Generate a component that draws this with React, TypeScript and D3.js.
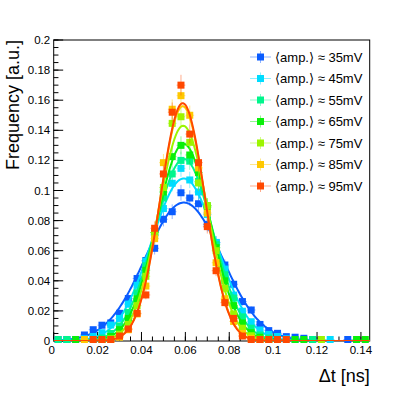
import React from 'react';
import * as d3 from 'd3';

// binning of the histograms (36 bins of 0.004 ns)
const binLow = 0
const binHigh = 0.144
const binCount = 36

const amplitudes = [35, 45, 55, 65, 75, 85, 95]
const colors = ['#0a5cff', '#00dcff', '#00f58c', '#0aef0a', '#9cf500', '#ffc800', '#ff4800']

// normalised frequency per bin, null = empty bin (not drawn)
const amp35 = [0.001, 0.001, 0.001, 0.004, 0.0075, 0.0105, 0.012, 0.0184, 0.0282, 0.0415, 0.0535, 0.0616,
    0.0809, 0.0859, 0.0985, 0.095, 0.0912, 0.0775, 0.0653, 0.0505, 0.0377, 0.0262, 0.0206, 0.011,
    0.0069, 0.0051, 0.0029, 0.0025, 0.0018, 0.001, null, null, null, 0.001, null, null]
const amp45 = [null, 0.001, null, 0.0015, 0.003, 0.0055, 0.0106, 0.015, 0.0245, 0.037, 0.053, 0.0705,
    0.088, 0.1048, 0.1147, 0.107, 0.099, 0.084, 0.0655, 0.0478, 0.0305, 0.0198, 0.0128, 0.0073,
    0.0044, 0.003, 0.0015, 0.001, null, null, null, 0.001, null, null, null, null]
const amp55 = [0.001, 0.001, null, null, 0.001, 0.002, 0.005, 0.01, 0.019, 0.032, 0.05, 0.072,
    0.095, 0.111, 0.12, 0.1195, 0.106, 0.09, 0.064, 0.044, 0.0285, 0.016, 0.0085, 0.004,
    0.002, 0.001, null, null, null, 0.001, null, null, null, null, null, null]
const amp65 = [null, null, 0.001, null, null, 0.001, 0.003, 0.0075, 0.015, 0.028, 0.047, 0.072,
    0.099, 0.1225, 0.13, 0.1236, 0.112, 0.089, 0.062, 0.04, 0.0235, 0.012, 0.0055, 0.0025,
    0.001, 0.001, null, 0.001, 0.001, null, null, null, null, null, 0.001, 0.001]
const amp75 = [null, null, null, null, null, 0.001, 0.0015, 0.0045, 0.011, 0.0235, 0.043, 0.072,
    0.102, 0.1446, 0.149, 0.132, 0.105, 0.09, 0.06, 0.035, 0.018, 0.0085, 0.0035, 0.0012,
    0.001, null, null, null, null, null, 0.001, null, null, null, null, null]
const amp85 = [null, null, null, 0.001, null, null, 0.001, 0.0025, 0.0075, 0.018, 0.0365, 0.068,
    0.1185, 0.154, 0.163, 0.15, 0.115, 0.085, 0.052, 0.028, 0.013, 0.005, 0.0018, 0.001,
    null, null, null, null, null, null, null, null, null, null, null, null]
const amp95 = [null, null, null, null, 0.001, 0.001, 0.001, 0.0033, 0.008, 0.0184, 0.0306, 0.0749,
    0.111, 0.152, 0.17, 0.1375, 0.1185, 0.076, 0.0467, 0.0255, 0.015, 0.0033, 0.001, 0.001,
    0.001, 0.001, 0.001, null, null, null, null, null, null, null, null, null]

const seriesValues = [amp35, amp45, amp55, amp65, amp75, amp85, amp95]
const entries = [3600, 3600, 3600, 3600, 3600, 3600, 3600]

// gaussian fit results
const fitConstant = [0.092, 0.108, 0.121, 0.131, 0.143, 0.156, 0.158]
const fitMean = [0.0593, 0.0593, 0.0593, 0.0592, 0.059, 0.0588, 0.0588]
const fitSigma = [0.0174, 0.0148, 0.0132, 0.0122, 0.0112, 0.0102, 0.0101]

const font = '"Liberation Sans", Arial, Helvetica, "DejaVu Sans", sans-serif'

const App = () => {

    const width = 411
    const height = 393

    const frame = {left: 53.7, right: 369.7, top: 40, bottom: 341}

    const xScale = d3.scaleLinear()
        .domain([binLow, binHigh])
        .range([frame.left, frame.right])

    const yScale = d3.scaleLinear()
        .domain([0, 0.2])
        .range([frame.bottom, frame.top])

    const binWidth = (binHigh - binLow) / binCount
    const centers = d3.range(binCount).map(i => binLow + binWidth * (i + 0.5))

    const fmt = d3.format('.2~f')
    const xMajor = d3.range(0, 0.1401, 0.02)
    const xMinor = d3.range(0, 0.1441, 0.005)
    const yMajor = yScale.ticks(10)
    const yMinor = yScale.ticks(40)

    const yTickLen = 0.03 * (frame.right - frame.left)
    const xTickLen = 0.03 * (frame.bottom - frame.top)

    const gauss = (k, t) => fitConstant[k] * Math.exp(-0.5 * Math.pow((t - fitMean[k]) / fitSigma[k], 2))
    const fitLine = d3.line().curve(d3.curveLinear)
    const samples = d3.range(binLow, binHigh + 0.00001, 0.0005)

    const markerSize = 7
    const legendY = d3.range(amplitudes.length).map(i => 57 + i * 21.5)

    return (
        <svg width={width} height={height} style={{position: 'absolute', left: 0, top: 0, background: '#fff'}}
             fontFamily={font}>
            <defs>
                <clipPath id='frameclip'>
                    <rect x={frame.left} y={frame.top} width={frame.right - frame.left} height={frame.bottom - frame.top}/>
                </clipPath>
            </defs>

            {/* frame */}
            <rect x={frame.left} y={frame.top} width={frame.right - frame.left} height={frame.bottom - frame.top}
                  fill='none' stroke='#000' strokeWidth={1}/>

            {/* y axis ticks */}
            {yMinor.map(t => (
                <line key={'ym' + t} x1={frame.left} x2={frame.left + yTickLen / 2} y1={yScale(t)} y2={yScale(t)} stroke='#000'/>
            ))}
            {yMajor.map(t => (
                <g key={'yM' + t}>
                    <line x1={frame.left} x2={frame.left + yTickLen} y1={yScale(t)} y2={yScale(t)} stroke='#000'/>
                    <text x={frame.left - 3.5} y={yScale(t)} dy='0.35em' textAnchor='end' fontSize={11.5} fill='#000'>{fmt(t)}</text>
                </g>
            ))}

            {/* x axis ticks */}
            {xMinor.map(t => (
                <line key={'xm' + t} x1={xScale(t)} x2={xScale(t)} y1={frame.bottom} y2={frame.bottom - xTickLen / 2} stroke='#000'/>
            ))}
            {xMajor.map(t => (
                <g key={'xM' + t}>
                    <line x1={xScale(t)} x2={xScale(t)} y1={frame.bottom} y2={frame.bottom - xTickLen} stroke='#000'/>
                    <text x={xScale(t) - (t === 0 ? 2 : 0)} y={354} textAnchor='middle' fontSize={11.5} fill='#000'>{fmt(t)}</text>
                </g>
            ))}

            {/* axis titles */}
            <text x={frame.right} y={381.5} textAnchor='end' fontSize={18} fill='#000'>Δt [ns]</text>
            <text transform={`translate(${18.5}, ${frame.top}) rotate(-90)`} textAnchor='end' fontSize={18} fill='#000'>Frequency [a.u.]</text>

            {/* histograms and fits */}
            {seriesValues.map((vals, k) => (
                <g key={'s' + k}>
                    {vals.map((v, i) => {
                        if (v === null) return null
                        const err = Math.sqrt(v / entries[k])
                        return (
                            <g key={i} stroke={colors[k]} strokeOpacity={0.45} strokeWidth={1}>
                                <line x1={xScale(centers[i])} x2={xScale(centers[i])} y1={yScale(v - err)} y2={yScale(v + err)}/>
                                <line x1={xScale(centers[i] - binWidth / 2)} x2={xScale(centers[i] + binWidth / 2)} y1={yScale(v)} y2={yScale(v)}/>
                            </g>
                        )
                    })}
                    {vals.map((v, i) => v === null ? null : (
                        <rect key={'m' + i} x={xScale(centers[i]) - markerSize / 2} y={yScale(v) - markerSize / 2}
                              width={markerSize} height={markerSize} fill={colors[k]}/>
                    ))}
                    <path clipPath='url(#frameclip)' d={fitLine(samples.map(t => [xScale(t), yScale(gauss(k, t))]))}
                          fill='none' stroke={colors[k]} strokeWidth={2}/>
                </g>
            ))}

            {/* legend */}
            {amplitudes.map((a, k) => (
                <g key={'l' + k}>
                    <line x1={250} x2={271} y1={legendY[k]} y2={legendY[k]} stroke={colors[k]} strokeOpacity={0.45}/>
                    <line x1={260.5} x2={260.5} y1={legendY[k] - 6} y2={legendY[k] + 6} stroke={colors[k]} strokeOpacity={0.45}/>
                    <rect x={260.5 - markerSize / 2} y={legendY[k] - markerSize / 2} width={markerSize} height={markerSize} fill={colors[k]}/>
                    <text x={275} y={legendY[k]} dy='0.36em' fontSize={13} fill='#000'>{`⟨amp.⟩ ≈ ${a}mV`}</text>
                </g>
            ))}
        </svg>
    )
}

export default App;
